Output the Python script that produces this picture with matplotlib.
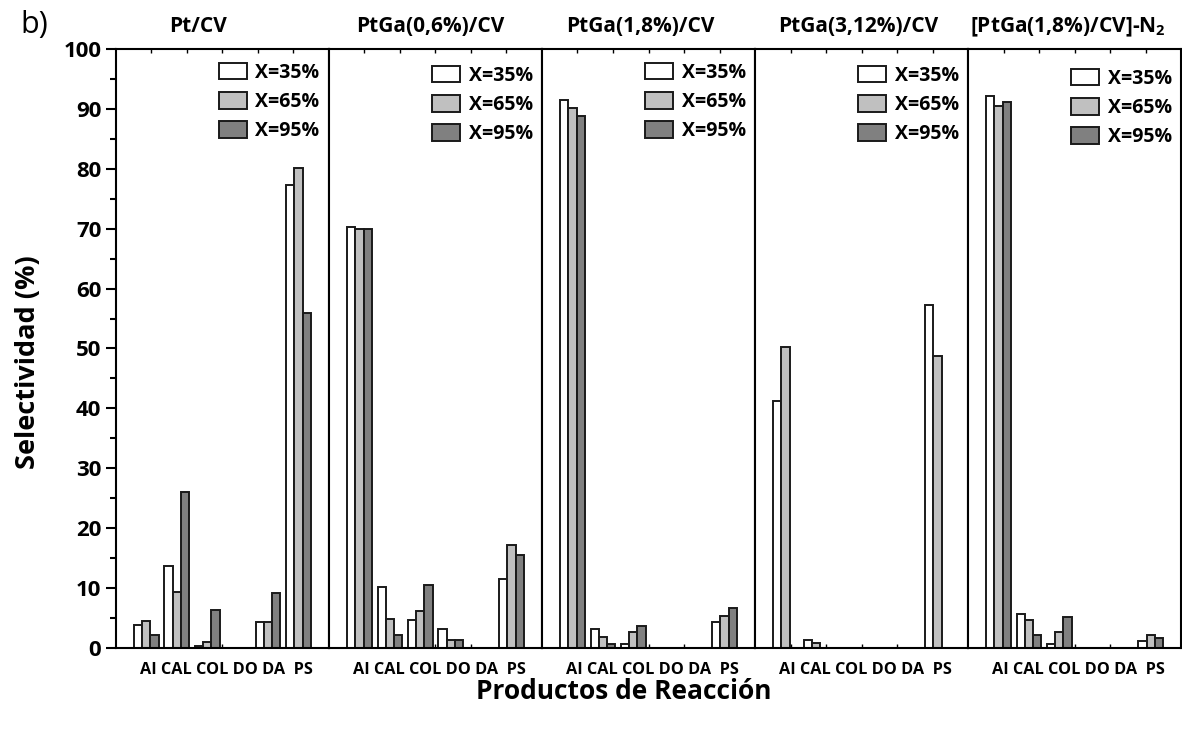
import matplotlib
matplotlib.use("Agg")
import matplotlib.pyplot as plt
from matplotlib.patches import Patch
import numpy as np

plt.rcParams['font.family'] = ['Open Sans', 'DejaVu Sans']
plt.rcParams['mathtext.fontset'] = 'custom'
plt.rcParams['mathtext.bf'] = 'Open Sans:bold'
plt.rcParams['mathtext.rm'] = 'Open Sans'

categories = ["AI", "CAL", "COL", "DO", "DA", "PS"]
series_labels = ["X=35%", "X=65%", "X=95%"]
panel_titles = ["Pt/CV", "PtGa(0,6%)/CV", "PtGa(1,8%)/CV", "PtGa(3,12%)/CV",
                r"[PtGa(1,8%)/CV]-N$_\mathbf{2}$"]

# selectivity (%) per catalyst: rows = conversion level, columns = product
pt_cv = [
    [3.8, 13.7, 0.3, 0.0, 4.4, 77.3],
    [4.5, 9.4, 1.0, 0.0, 4.4, 80.1],
    [2.1, 26.0, 6.4, 0.0, 9.1, 56.0],
]
ptga_06 = [
    [70.3, 10.1, 4.7, 3.2, 0.0, 11.5],
    [70.0, 4.9, 6.2, 1.3, 0.0, 17.2],
    [70.0, 2.2, 10.5, 1.3, 0.0, 15.6],
]
ptga_18 = [
    [91.5, 3.2, 0.7, 0.0, 0.0, 4.3],
    [90.2, 1.8, 2.6, 0.0, 0.0, 5.4],
    [88.8, 0.7, 3.7, 0.0, 0.0, 6.7],
]
ptga_312 = [
    [41.3, 1.3, 0.0, 0.0, 0.0, 57.3],
    [50.3, 0.8, 0.0, 0.0, 0.0, 48.8],
    [0.0, 0.0, 0.0, 0.0, 0.0, 0.0],
]
ptga_18_n2 = [
    [92.2, 5.6, 0.7, 0.0, 0.0, 1.2],
    [90.5, 4.7, 2.7, 0.0, 0.0, 2.1],
    [91.1, 2.1, 5.2, 0.0, 0.0, 1.6],
]
panels = [pt_cv, ptga_06, ptga_18, ptga_312, ptga_18_n2]

colors = ["#ffffff", "#c0c0c0", "#808080"]
legend_y = [1.0, 0.995, 1.0, 0.995, 0.99]
title_x = [0.385, 0.474, 0.46, 0.484, 0.469]
category_text = " ".join(categories[:-1]) + "  " + categories[-1]

fig, axes = plt.subplots(1, 5, sharey=True, figsize=(11.82, 7.33), dpi=100)
fig.subplots_adjust(left=0.0981, right=0.9992, bottom=0.116, top=0.9332, wspace=0)

x = np.arange(1, len(categories) + 1)
w = 0.27
for k, (ax, data) in enumerate(zip(axes, panels)):
    for i, vals in enumerate(data):
        ax.bar(x + (i - 1) * w, vals, width=w, color=colors[i],
               edgecolor="#1a1a1a", linewidth=1.4, zorder=2)
    ax.set_xlim(0, 7)
    ax.set_ylim(0, 100)
    ax.set_xticks(np.linspace(0, 7, 7)[1:-1])
    ax.set_xticklabels([])
    ax.tick_params(axis="x", which="major", direction="in", length=3,
                   width=1, top=True, bottom=True)
    ax.text(0.52, -0.036, category_text, transform=ax.transAxes,
            ha="center", va="center", fontsize=11.7, fontweight="bold")
    for sp in ax.spines.values():
        sp.set_linewidth(1.5)
        sp.set_color("black")
    ax.set_title(panel_titles[k], fontsize=15, fontweight="bold", pad=12,
                 x=title_x[k])
    handles = [Patch(facecolor=c, edgecolor="#1a1a1a", linewidth=1.4) for c in colors]
    ax.legend(handles, series_labels, loc="upper right",
              bbox_to_anchor=(1.02, legend_y[k]), frameon=False,
              prop={"weight": "bold", "size": 14}, handlelength=1.45,
              handleheight=0.95, labelspacing=0.47, handletextpad=0.45,
              borderaxespad=0.3)
    if k > 0:
        ax.tick_params(axis="y", which="both", left=False, labelleft=False)

ax0 = axes[0]
ax0.set_yticks(np.arange(0, 101, 10))
ax0.set_yticks(np.arange(5, 100, 10), minor=True)
ax0.tick_params(axis="y", which="major", direction="out", length=7, width=1.5,
                labelsize=16)
ax0.tick_params(axis="y", which="minor", direction="out", length=4, width=1.5)
for lbl in ax0.get_yticklabels():
    lbl.set_fontweight("bold")

fig.text(0.024, 0.506, "Selectividad (%)", rotation=90, ha="center",
         va="center", fontsize=19.5, fontweight="bold")
fig.text(0.528, 0.057, "Productos de Reacción", ha="center", va="center",
         fontsize=19, fontweight="bold")
fig.text(0.017, 0.966, "b)", ha="left", va="center", fontsize=22)

fig.savefig("out.png", dpi=100)
